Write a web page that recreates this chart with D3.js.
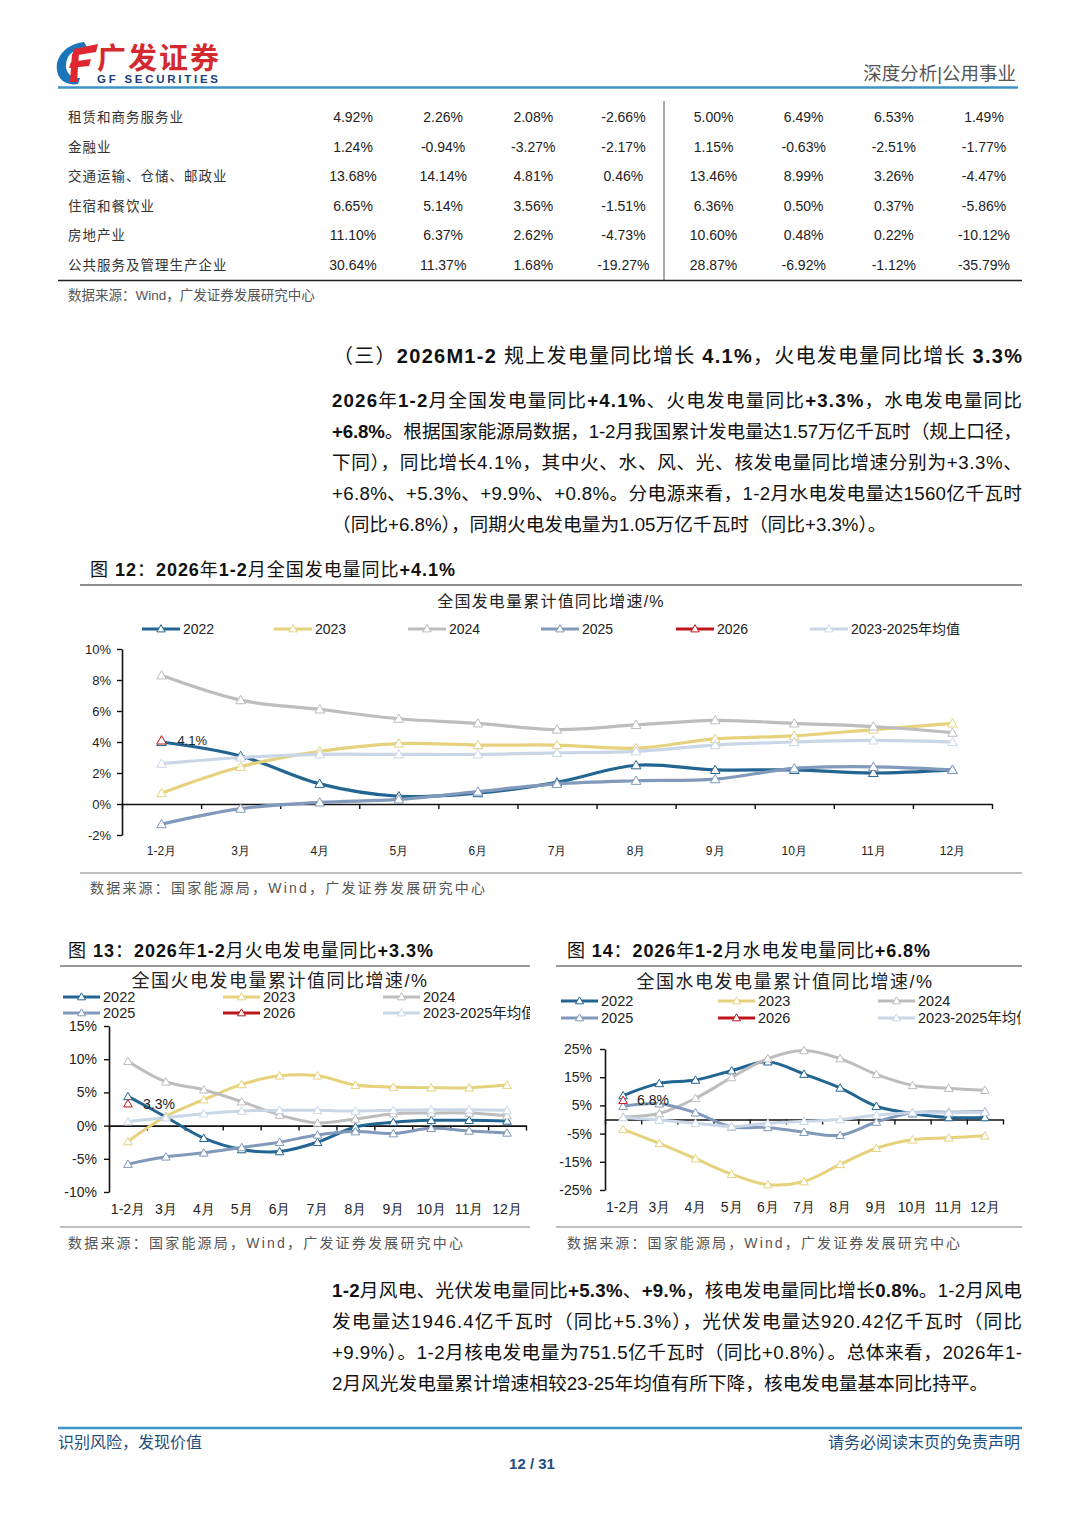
<!DOCTYPE html>
<html>
<head>
<meta charset="utf-8">
<script src="https://cdn.jsdelivr.net/npm/d3@7"></script>
<style>
  body { margin: 0; background: #fff; }
  svg { display: block; font-family: "Liberation Sans", Arial, "Noto Sans CJK SC", sans-serif; }
  text { white-space: pre; }
</style>
</head>
<body>
<svg id="page" width="1080" height="1527"></svg>
<script>
// ---- table (continued from previous page) ----
const tableRows = ["租赁和商务服务业", "金融业", "交通运输、仓储、邮政业", "住宿和餐饮业", "房地产业", "公共服务及管理生产企业"];
const tableValues = [
  [4.92, 2.26, 2.08, -2.66, 5.00, 6.49, 6.53, 1.49],
  [1.24, -0.94, -3.27, -2.17, 1.15, -0.63, -2.51, -1.77],
  [13.68, 14.14, 4.81, 0.46, 13.46, 8.99, 3.26, -4.47],
  [6.65, 5.14, 3.56, -1.51, 6.36, 0.50, 0.37, -5.86],
  [11.10, 6.37, 2.62, -4.73, 10.60, 0.48, 0.22, -10.12],
  [30.64, 11.37, 1.68, -19.27, 28.87, -6.92, -1.12, -35.79]
];

// ---- chart categories ----
const months = ["1-2月", "3月", "4月", "5月", "6月", "7月", "8月", "9月", "10月", "11月", "12月"];
const seriesNames = ["2022", "2023", "2024", "2025", "2026", "2023-2025年均值"];

// 图12 全国发电量累计值同比增速/%
const all2022 = [4.0, 3.1, 1.3, 0.5, 0.7, 1.4, 2.5, 2.2, 2.2, 2.0, 2.2];
const all2023 = [0.7, 2.4, 3.4, 3.9, 3.8, 3.8, 3.6, 4.2, 4.4, 4.8, 5.2];
const all2024 = [8.3, 6.7, 6.1, 5.5, 5.2, 4.8, 5.1, 5.4, 5.2, 5.0, 4.6];
const all2025 = [-1.3, -0.3, 0.1, 0.3, 0.8, 1.3, 1.5, 1.6, 2.3, 2.4, 2.2];
const all2026 = [4.1];
const allAvg = [2.6, 3.0, 3.2, 3.2, 3.2, 3.3, 3.4, 3.8, 4.0, 4.1, 4.0];
const allTicks = [-2, 0, 2, 4, 6, 8, 10];

// 图13 全国火电发电量累计值同比增速/%
const thermal2022 = [4.4, 1.3, -1.9, -3.6, -3.9, -2.5, -0.2, 0.5, 0.8, 0.8, 0.7];
const thermal2023 = [-2.4, 1.4, 3.9, 6.2, 7.5, 7.5, 6.1, 5.8, 5.7, 5.7, 6.1];
const thermal2024 = [9.7, 6.6, 5.4, 3.6, 1.6, 0.4, 1.0, 1.8, 1.9, 1.9, 1.5];
const thermal2025 = [-5.8, -4.7, -4.1, -3.3, -2.5, -1.4, -0.9, -1.2, -0.4, -0.8, -1.1];
const thermal2026 = [3.3];
const thermalAvg = [0.6, 1.2, 1.8, 2.2, 2.3, 2.3, 2.2, 2.3, 2.4, 2.4, 2.3];
const thermalTicks = [-10, -5, 0, 5, 10, 15];

// 图14 全国水电发电量累计值同比增速/%
const hydro2022 = [8.5, 12.8, 14.0, 17.3, 20.5, 16.1, 11.2, 4.7, 2.1, 0.7, 0.7];
const hydro2023 = [-3.5, -8.5, -13.9, -19.4, -23.1, -22.0, -15.9, -10.2, -7.2, -6.5, -5.8];
const hydro2024 = [0.9, 2.1, 7.5, 14.9, 21.6, 24.5, 21.6, 16.0, 12.1, 11.1, 10.4];
const hydro2025 = [4.7, 5.6, 2.4, -2.6, -2.8, -4.5, -5.6, -0.9, 2.4, 2.6, 2.8];
const hydro2026 = [6.8];
const hydroAvg = [0.7, -0.2, -1.3, -2.5, -1.3, -0.6, 0.0, 1.5, 2.4, 2.4, 2.6];
const hydroTicks = [-25, -15, -5, 5, 15, 25];

// ---- body text ----
const para1 = [
  { segs: [["2026年1-2月全国发电量同比+4.1%、火电发电量同比+3.3%，水电发电量同比", true]], justify: true },
  { segs: [["+6.8%。", true], ["根据国家能源局数据，1-2月我国累计发电量达1.57万亿千瓦时（规上口径，", false]], justify: true },
  { segs: [["下同），同比增长4.1%，其中火、水、风、光、核发电量同比增速分别为+3.3%、", false]], justify: true },
  { segs: [["+6.8%、+5.3%、+9.9%、+0.8%。分电源来看，1-2月水电发电量达1560亿千瓦时", false]], justify: true },
  { segs: [["（同比+6.8%），同期火电发电量为1.05万亿千瓦时（同比+3.3%）。", false]], justify: false }
];
const para2 = [
  { segs: [["1-2月风电、光伏发电量同比+5.3%、+9.%，核电发电量同比增长0.8%。", true], ["1-2月风电", false]], justify: true },
  { segs: [["发电量达1946.4亿千瓦时（同比+5.3%），光伏发电量达920.42亿千瓦时（同比", false]], justify: true },
  { segs: [["+9.9%）。1-2月核电发电量为751.5亿千瓦时（同比+0.8%）。总体来看，2026年1-", false]], justify: true },
  { segs: [["2月风光发电量累计增速相较23-25年均值有所下降，核电发电量基本同比持平。", false]], justify: false }
];

const colors = ["#236592", "#e6d27c", "#bdbdbd", "#8199ba", "#c0141c", "#c9d6e7"];
const blueLine = "#3f93c6";
const navy = "#1f4e80";

const svg = d3.select("#page");

// bold only the latin runs of a bold segment (the CJK glyphs stay regular, like the source)
function richText(sel, segs) {
  segs.forEach(([str, bold]) => {
    if (!bold) { sel.append("tspan").text(str); return; }
    str.match(/[\x00-\x7F]+|[^\x00-\x7F]+/g).forEach(run => {
      sel.append("tspan")
        .attr("font-weight", /[\x00-\x7F]/.test(run[0]) ? "bold" : null)
        .text(run);
    });
  });
}

function paragraph(lines, x, y0, lh, width, size) {
  lines.forEach((ln, i) => {
    const t = svg.append("text")
      .attr("x", x).attr("y", y0 + i * lh)
      .attr("font-size", size).attr("fill", "#111");
    if (ln.justify) t.attr("textLength", width).attr("lengthAdjust", "spacing");
    richText(t, ln.segs);
  });
}

function hline(x1, x2, y, color, w) {
  svg.append("line").attr("x1", x1).attr("x2", x2).attr("y1", y).attr("y2", y)
    .attr("stroke", color).attr("stroke-width", w);
}

// ---- header ----
const logo = svg.append("g").attr("transform", "translate(54,40)");
logo.append("path").attr("d", "M30,2 C12,4 1,17 3,30 C4,40 13,46 24,44 L26,38 C17,39 11,32 12,24 C13,14 21,8 33,7 Z").attr("fill", "#1b75bb");
logo.append("path").attr("d", "M20,9 L44,4 L42,12 L18,16 Z").attr("fill", "#e0262e");
logo.append("path").attr("d", "M17,22 L37,19 L35,26 L15,28 Z").attr("fill", "#e0262e");
logo.append("path").attr("d", "M18,14 L25,13 L23,42 L16,42 Z").attr("fill", "#e0262e");
svg.append("text").attr("x", 97).attr("y", 69).attr("font-size", 29).attr("font-weight", "bold")
  .attr("fill", "#d42a2f").attr("textLength", 122).text("广发证券");
svg.append("text").attr("x", 97).attr("y", 83).attr("font-size", 11.5).attr("font-weight", "bold")
  .attr("fill", "#1c3f78").attr("textLength", 121).text("GF SECURITIES");
svg.append("text").attr("x", 1016).attr("y", 80).attr("text-anchor", "end").attr("font-size", 18.5)
  .attr("fill", "#555").text("深度分析|公用事业");
hline(58, 1018, 87.5, blueLine, 2.5);

// ---- table ----
const colX = d3.scalePoint().domain(d3.range(8)).range([353, 984]);
const rowY = d3.scalePoint().domain(d3.range(tableRows.length)).range([117, 265]);
tableRows.forEach((name, r) => {
  svg.append("text").attr("x", 68).attr("y", rowY(r) + 5).attr("font-size", 13.5)
    .attr("letter-spacing", 1).attr("fill", "#333").text(name);
  tableValues[r].forEach((v, c) => {
    svg.append("text").attr("x", colX(c)).attr("y", rowY(r) + 5).attr("text-anchor", "middle")
      .attr("font-size", 14).attr("fill", "#222").text(v.toFixed(2) + "%");
  });
});
svg.append("line").attr("x1", 664).attr("x2", 664).attr("y1", 101).attr("y2", 280)
  .attr("stroke", "#555").attr("stroke-width", 1);
hline(58, 1022, 280.5, "#222", 1.5);
svg.append("text").attr("x", 68).attr("y", 300).attr("font-size", 13.5).attr("fill", "#555")
  .text("数据来源：Wind，广发证券发展研究中心");

// ---- section heading + paragraph ----
const head = svg.append("text").attr("x", 333).attr("y", 363).attr("font-size", 20)
  .attr("fill", "#111").attr("textLength", 689).attr("lengthAdjust", "spacing");
richText(head, [["（三）", false], ["2026M1-2", true], [" 规上发电量同比增长 ", false], ["4.1%", true], ["，火电发电量同比增长 ", false], ["3.3%", true]]);
paragraph(para1, 332, 407, 31, 690, 18.7);

// ---- charts ----
const tri = s => d3.symbol().type(d3.symbolTriangle).size(s)();

function figTitle(x, y, num, rest, width) {
  const t = svg.append("text").attr("x", x).attr("y", y).attr("font-size", 18).attr("fill", "#111")
    .attr("textLength", width).attr("lengthAdjust", "spacing");
  richText(t, [["图 ", false], [num, true], ["：", false], [rest, true]]);
}

function sourceText(x, y, width) {
  svg.append("text").attr("x", x).attr("y", y).attr("font-size", 14).attr("fill", "#555")
    .attr("textLength", width).attr("lengthAdjust", "spacing")
    .text("数据来源：国家能源局，Wind，广发证券发展研究中心");
}

function drawChart(cfg) {
  const clipId = "clip" + cfg.id;
  svg.append("clipPath").attr("id", clipId).append("rect")
    .attr("x", cfg.clip[0]).attr("y", cfg.clip[1]).attr("width", cfg.clip[2]).attr("height", cfg.clip[3]);
  const g = svg.append("g").attr("clip-path", `url(#${clipId})`);

  const x = d3.scaleBand().domain(months).range(cfg.xRange);
  const cx = m => x(m) + x.bandwidth() / 2;
  const xEdge = d3.scaleLinear().domain([0, months.length]).range(cfg.xRange);
  const y = d3.scaleLinear().domain(cfg.yDomain).range(cfg.yRange);

  g.append("text").attr("x", cfg.titlePos[0]).attr("y", cfg.titlePos[1]).attr("text-anchor", "middle")
    .attr("font-size", cfg.titleSize).attr("letter-spacing", cfg.titleSpacing).attr("fill", "#222")
    .text(cfg.title);

  // legend
  cfg.series.forEach((s, i) => {
    const [lx, ly] = cfg.legendPos[i];
    const lg = g.append("g").attr("transform", `translate(${lx},${ly})`);
    lg.append("line").attr("x2", cfg.legendLen).attr("stroke", s.color).attr("stroke-width", 3);
    lg.append("path").attr("d", tri(cfg.legendMarker))
      .attr("transform", `translate(${cfg.legendLen / 2},0.5)`)
      .attr("fill", "#fff").attr("stroke", s.color).attr("stroke-width", 1);
    lg.append("text").attr("x", cfg.legendLen + 3).attr("dy", "0.36em")
      .attr("font-size", cfg.legendSize).attr("fill", "#222").text(s.name);
  });

  // axes
  const yAxis = g.append("g").attr("transform", `translate(${cfg.xRange[0]},0)`)
    .call(d3.axisLeft(y).tickValues(cfg.yTicks).tickFormat(d => d + "%")
      .tickSize(5).tickSizeOuter(0).tickPadding(cfg.yPad));
  yAxis.selectAll("text").attr("font-size", cfg.tickSize).attr("fill", "#222").attr("font-family", null);

  const xAxis = g.append("g").attr("transform", `translate(0,${y(0)})`)
    .call(d3.axisBottom(xEdge).tickValues(d3.range(months.length + 1)).tickFormat("")
      .tickSize(5).tickSizeOuter(0));

  const xLab = g.append("g").attr("transform", `translate(0,${cfg.xLabelY})`)
    .call(d3.axisBottom(x).tickSize(0).tickPadding(0));
  xLab.select(".domain").remove();
  xLab.selectAll("text").attr("font-size", cfg.xTickSize).attr("fill", "#222").attr("font-family", null);

  [yAxis, xAxis].forEach(a => {
    a.select(".domain").attr("stroke", "#111").attr("stroke-width", 1.6);
    a.selectAll(".tick line").attr("stroke", "#111").attr("stroke-width", 1.4);
  });

  // series
  const line = d3.line().x((d, i) => cx(months[i])).y(d => y(d)).curve(d3.curveCatmullRom.alpha(0.5));
  cfg.series.forEach(s => {
    if (s.values.length > 1) {
      g.append("path").datum(s.values).attr("d", line).attr("fill", "none")
        .attr("stroke", s.color).attr("stroke-width", cfg.lineW).attr("stroke-linejoin", "round");
    }
    g.selectAll(null).data(s.values).enter().append("path")
      .attr("d", tri(cfg.marker))
      .attr("transform", (d, i) => `translate(${cx(months[i])},${y(d) + 0.8})`)
      .attr("fill", "#fff").attr("stroke", s.color).attr("stroke-width", 1);
  });

  // label of the latest value
  const latest = cfg.series[4];
  g.append("text").attr("x", cx(months[0]) + cfg.labelDx).attr("y", y(latest.values[0]))
    .attr("dy", "0.36em").attr("font-size", cfg.labelSize).attr("fill", "#222")
    .text(latest.values[0].toFixed(1) + "%");
}

const mkSeries = arrs => arrs.map((v, i) => ({ name: seriesNames[i], values: v, color: colors[i] }));

// 图12
figTitle(90, 576, "12", "2026年1-2月全国发电量同比+4.1%", 365);
hline(80, 1022, 585, "#8f8f8f", 2);
drawChart({
  id: 12, clip: [70, 588, 960, 280],
  xRange: [122, 992], yDomain: [-2, 10], yRange: [835, 649], yTicks: allTicks, yPad: 6,
  xLabelY: 846, tickSize: 13, xTickSize: 12,
  title: "全国发电量累计值同比增速/%", titlePos: [551, 607], titleSize: 16, titleSpacing: 1.2,
  legendPos: [[142, 629], [274, 629], [408, 629], [541, 629], [676, 629], [810, 629]],
  legendLen: 38, legendMarker: 30, legendSize: 14,
  marker: 40, lineW: 3.2, labelDx: 16, labelSize: 13,
  series: mkSeries([all2022, all2023, all2024, all2025, all2026, allAvg])
});
hline(80, 1022, 873, "#aaa", 1.5);
sourceText(90, 893, 395);

// 图13
figTitle(68, 957, "13", "2026年1-2月火电发电量同比+3.3%", 365);
hline(60, 530, 966, "#777", 1.5);
drawChart({
  id: 13, clip: [58, 968, 472, 256],
  xRange: [109, 526], yDomain: [-10, 15], yRange: [1192, 1026], yTicks: thermalTicks, yPad: 7,
  xLabelY: 1204, tickSize: 14, xTickSize: 14,
  title: "全国火电发电量累计值同比增速/%", titlePos: [280, 987], titleSize: 18, titleSpacing: 1.5,
  legendPos: [[63, 997], [223, 997], [383, 997], [63, 1013], [223, 1013], [383, 1013]],
  legendLen: 37, legendMarker: 28, legendSize: 14.5,
  marker: 32, lineW: 3, labelDx: 15, labelSize: 14,
  series: mkSeries([thermal2022, thermal2023, thermal2024, thermal2025, thermal2026, thermalAvg])
});
hline(60, 530, 1227, "#aaa", 1.5);
sourceText(68, 1248, 395);

// 图14
figTitle(567, 957, "14", "2026年1-2月水电发电量同比+6.8%", 363);
hline(556, 1022, 966, "#777", 1.5);
drawChart({
  id: 14, clip: [554, 968, 467, 256],
  xRange: [605, 1003], yDomain: [-25, 25], yRange: [1190, 1049], yTicks: hydroTicks, yPad: 8,
  xLabelY: 1202, tickSize: 14, xTickSize: 14,
  title: "全国水电发电量累计值同比增速/%", titlePos: [785, 988], titleSize: 18, titleSpacing: 1.5,
  legendPos: [[561, 1001], [718, 1001], [878, 1001], [561, 1018], [718, 1018], [878, 1018]],
  legendLen: 37, legendMarker: 28, legendSize: 14.5,
  marker: 32, lineW: 3, labelDx: 14, labelSize: 14,
  series: mkSeries([hydro2022, hydro2023, hydro2024, hydro2025, hydro2026, hydroAvg])
});
hline(556, 1022, 1227, "#aaa", 1.5);
sourceText(567, 1248, 393);

// ---- second paragraph ----
paragraph(para2, 332, 1297, 31, 690, 18.7);

// ---- footer ----
hline(58, 1022, 1428, blueLine, 2.5);
svg.append("text").attr("x", 58).attr("y", 1448).attr("font-size", 16).attr("fill", navy).text("识别风险，发现价值");
svg.append("text").attr("x", 1020).attr("y", 1448).attr("text-anchor", "end").attr("font-size", 16)
  .attr("fill", navy).text("请务必阅读末页的免责声明");
svg.append("text").attr("x", 532).attr("y", 1469).attr("text-anchor", "middle").attr("font-size", 15)
  .attr("font-weight", "bold").attr("fill", navy).text("12 / 31");
</script>
</body>
</html>
